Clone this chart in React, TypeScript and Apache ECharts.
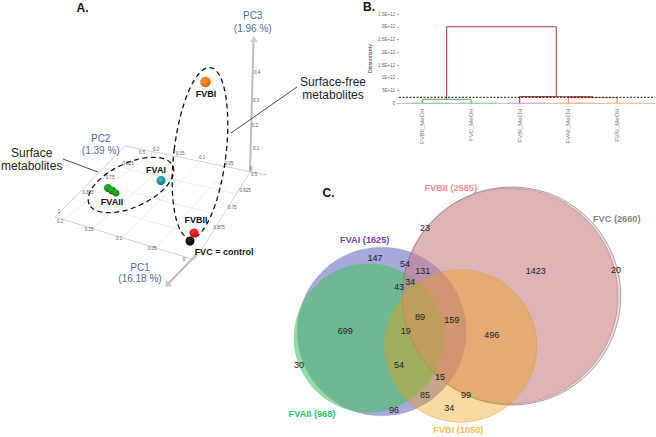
import React, { useEffect, useRef } from "react";
import * as echarts from "echarts";

const FONT = '"Liberation Sans", Arial, sans-serif';
const W = 656;
const H = 437;

// ---------- Panel B: dendrogram ----------
const leafNames = ["FVBII_MeOH", "FVC_MeOH", "FVBI_MeOH", "FVAII_MeOH", "FVAI_MeOH"];
const leafSlots = [0, 2, 4, 6, 8];
const leafColors = ["#9CCFA6", "#A5D3AE", "#DDB0DA", "#F4B98C", "#F6C9A6"];
const yTickLabels: Record<string, string> = {
  "0": "0", "500000000000": "5E+11", "1000000000000": "1E+12", "1500000000000": "1.5E+12",
  "2000000000000": "2E+12", "2500000000000": "2.5E+12", "3000000000000": "3E+12", "3500000000000": "3.5E+12",
};
const linkGreen = [[0, 0], [0, 1.55e11], [2, 1.55e11], [2, 0]];
const linkOrange = [[6, 0], [6, 2.2e11], [8, 2.2e11], [8, 0]];
const linkPurple = [[4, 0], [4, 2.6e11], [5.5, 2.6e11]];
const linkRedLower = [[4, 2.6e11], [7, 2.6e11], [7, 2.2e11]];
const linkRedTop = [[1, 1.55e11], [1, 3e12], [5.5, 3e12], [5.5, 2.6e11]];
const truncation = 2.35e11;

// ---------- Panel C: Venn (listed in drawing order) ----------
const vennNames = ["FVC", "FVAI", "FVAII", "FVBII", "FVBI"];
const vennCx = [511.7, 381.7, 368.3, 510, 460.5];
const vennCy = [296, 331.5, 338, 296, 346];
const vennR = [109, 84.3, 74.3, 108, 76.2];
const vennFill = [
  "rgba(222,222,218,0.8)", "rgba(110,110,193,0.6)", "rgba(73,195,103,0.6)",
  "rgba(216,130,139,0.5)", "rgba(237,160,17,0.4)",
];
const vennStroke = [
  "rgba(130,130,130,0.9)", "rgba(110,110,193,0.3)", "rgba(73,195,103,0.3)",
  "rgba(170,100,105,0.6)", "rgba(200,150,70,0.5)",
];
const vennCounts: [string, number, number][] = [
  ["147", 375, 257.7], ["54", 405, 264.3], ["131", 422.7, 271], ["34", 410.3, 282],
  ["43", 399, 286.7], ["23", 425, 227.7], ["1423", 535.7, 270.7], ["20", 616, 269.7],
  ["699", 345.3, 330.7], ["19", 405.7, 331.3], ["89", 420, 317], ["159", 451.7, 320],
  ["496", 491.7, 335.3], ["54", 399, 364.7], ["30", 299, 364.7], ["15", 440, 376.7],
  ["85", 425, 394.7], ["99", 466, 395], ["34", 449.3, 408.3], ["96", 394, 410.3],
];
const vennTitles: [string, number, number, string][] = [
  ["FVBII (2585)", 450.7, 188.3, "#F08E94"], ["FVC (2660)", 616.7, 218.7, "#858585"],
  ["FVAI (1625)", 364.7, 239.7, "#7A3FB0"], ["FVAII (968)", 312, 414.3, "#2FBF6E"],
  ["FVBI (1050)", 458.3, 430.3, "#F3BE52"],
];

// ---------- Panel A: PCA ----------
const floorEdges = [
  [125, 146, 267, 175], [125, 146, 55, 217], [55, 217, 195, 260], [250, 172, 195, 260],
];
const floorGrid = [
  [63, 220, 153, 152], [92, 229, 176, 156], [122, 238, 202, 160], [155, 249, 229, 166],
  [107.5, 164, 236, 194], [90, 181.5, 222.5, 216], [72.5, 199, 208.7, 238],
];
const thickAxes = [[250, 172, 253.5, 40], [197, 254, 167, 285]];
const calloutLines = [[63, 159, 98, 172], [297, 87, 231, 133]];
const pcaTicks: [string, number, number][] = [
  ["0.4", 257, 72], ["0.3", 256, 100], ["0.2", 255, 125], ["0.1", 256, 148], ["0", 251, 168],
  ["0.5", 254, 174], ["0.625", 245, 190], ["0.75", 232, 207], ["0.875", 219, 227],
  ["0.2", 156, 149], ["0.15", 180, 153], ["0.1", 202, 157], ["0.05", 229, 163],
  ["0.5", 142, 152], ["0.625", 128, 163], ["0.75", 110, 177], ["0.875", 88, 192], ["1", 59, 211],
  ["0.2", 60, 221], ["0.15", 89, 229], ["0.1", 119, 238], ["0.05", 152, 248], ["0", 184, 259],
];
const groupNames = ["FVBI", "FVAI", "FVAII", "FVBII", "FVC"];
const groupX = [205.5, 161, 108, 194, 190];
const groupY = [82, 180.5, 188, 233, 241];
const extraGreenX = [112, 116];
const extraGreenY = [190.5, 193];
const groupLabels: [string, number, number][] = [
  ["FVBI", 206, 94], ["FVAI", 156, 170], ["FVAII", 112, 202], ["FVBII", 196, 220], ["FVC = control", 224, 252],
];
const axisTitles: [string, number, number][] = [
  ["PC3", 252.7, 15], ["(1.96 %)", 252.7, 28], ["PC2", 100.7, 138], ["(1.39 %)", 100.7, 150],
  ["PC1", 140, 267.7], ["(16.18 %)", 140, 278.5],
];
const calloutTexts: [string, number, number][] = [
  ["Surface", 31.7, 152.7], ["metabolites", 31.7, 166], ["Surface-free", 333, 82], ["metabolites", 333, 95],
];
const ellipses = [
  [200, 153, 26, 86, -0.12],
  [131, 185, 46, 22, 0.43],
];
const panelLetters: [string, number, number][] = [["A.", 82.5, 8], ["B.", 369, 7], ["C.", 328.5, 193]];

function sphere(light: string, mid: string, dark: string) {
  return new echarts.graphic.RadialGradient(0.4, 0.35, 0.7, [
    { offset: 0, color: light }, { offset: 0.5, color: mid }, { offset: 1, color: dark },
  ]);
}
const groupColors = [
  sphere("#F59A3A", "#EC7E12", "#C4620C"),
  sphere("#3FC0C4", "#149CA2", "#0D767C"),
  sphere("#35B835", "#159A15", "#0E760E"),
  sphere("#FF3838", "#EE1414", "#C01010"),
  sphere("#333333", "#0C0C0C", "#000000"),
];

function segments(name: string, data: number[][], color: string, width: number, z = 2) {
  return {
    type: "custom", name, xAxisIndex: 0, yAxisIndex: 0, silent: true, z, clip: false,
    encode: { x: [0, 2], y: [1, 3] }, data,
    renderItem: (_: any, api: any) => {
      const a = api.coord([api.value(0), api.value(1)]);
      const b = api.coord([api.value(2), api.value(3)]);
      return {
        type: "line",
        shape: { x1: a[0], y1: a[1], x2: b[0], y2: b[1] },
        style: { stroke: color, lineWidth: width, fill: "none" },
      };
    },
  };
}

function link(name: string, data: number[][], color: string, z = 4) {
  return {
    type: "line", name, xAxisIndex: 1, yAxisIndex: 1, data, showSymbol: false, symbol: "none",
    silent: true, z, lineStyle: { color, width: 1 },
  };
}

function texts(items: [string, number, number][], font: string, fill: string) {
  return items.map(([text, x, y]) => ({
    type: "text", x, y, silent: true, z: 20,
    style: { text, font, fill, textAlign: "center", textVerticalAlign: "middle" },
  }));
}

export default function App() {
  const ref = useRef<HTMLDivElement>(null);
  useEffect(() => {
    const chart = echarts.init(ref.current!, undefined, { renderer: "svg" });
    const option: any = {
      animation: false,
      backgroundColor: "#fff",
      textStyle: { fontFamily: FONT },
      grid: [
        { left: 0, top: 0, width: W, height: H },
        { left: 399, top: 14, width: 256, height: 89.3 },
      ],
      xAxis: [
        { type: "value", min: 0, max: W, show: false, gridIndex: 0 },
        {
          type: "value", gridIndex: 1, min: -0.957, max: 9.556,
          splitLine: { show: false }, axisTick: { show: false },
          axisLine: { show: true, onZero: false, lineStyle: { color: "#C4C4C4", width: 1 } },
          axisLabel: {
            customValues: leafSlots, rotate: 90, fontSize: 6, color: "#777", margin: 5, fontFamily: FONT,
            formatter: (v: number) => leafNames[leafSlots.indexOf(v)] ?? "",
          },
        },
      ],
      yAxis: [
        { type: "value", min: 0, max: H, inverse: true, show: false, gridIndex: 0 },
        {
          type: "value", gridIndex: 1, min: 0, max: 3.5e12, interval: 5e11,
          name: "Dissimilarity", nameLocation: "middle", nameGap: 26,
          nameTextStyle: { fontSize: 5.5, color: "#333", fontFamily: FONT },
          splitLine: { show: false },
          axisLine: { show: false, onZero: false },
          axisTick: { show: true, length: 2, lineStyle: { color: "#AAA" } },
          axisLabel: {
            fontSize: 4.5, color: "#666", margin: 4, fontFamily: FONT,
            formatter: (v: number) => yTickLabels[String(v)] ?? "",
          },
        },
      ],
      series: [
        segments("floor-grid", floorGrid, "#ECECEC", 1, 1),
        segments("floor-edge", floorEdges, "#D2D2D2", 1, 2),
        segments("thick-axes", thickAxes, "#BDBDBD", 2, 3),
        segments("callouts", calloutLines, "#333", 0.9, 3),
        {
          type: "custom", name: "groupings", xAxisIndex: 0, yAxisIndex: 0, silent: true, z: 5, clip: false,
          encode: { x: 0, y: 1 }, data: ellipses,
          renderItem: (_: any, api: any) => {
            const c = api.coord([api.value(0), api.value(1)]);
            return {
              type: "ellipse",
              shape: { cx: 0, cy: 0, rx: api.value(2), ry: api.value(3) },
              x: c[0], y: c[1], rotation: api.value(4),
              style: { fill: "none", stroke: "#111", lineWidth: 1.3, lineDash: [5, 3.5] },
            };
          },
        },
        {
          type: "scatter", name: "PCA groups", xAxisIndex: 0, yAxisIndex: 0, silent: true, z: 6,
          symbolSize: 9, itemStyle: { opacity: 1 },
          data: [
            ...groupNames.map((name, i) => ({
              name, value: [groupX[i], groupY[i]], symbolSize: name === "FVBI" ? 10.5 : name === "FVAII" ? 8 : 9,
              itemStyle: { color: groupColors[i], opacity: 1 },
            })),
            ...extraGreenX.map((x, i) => ({
              name: "FVAII", value: [x, extraGreenY[i]], symbolSize: i === 0 ? 8 : 7,
              itemStyle: { color: groupColors[2], opacity: 1 },
            })),
          ],
        },
        ...leafSlots.map((s, i) =>
          ({
            type: "line", name: leafNames[i], xAxisIndex: 1, yAxisIndex: 1, symbol: "none", silent: true, z: 3,
            data: [[s - 0.45, 0], [s + 1.07, 0]], lineStyle: { color: leafColors[i], width: 1.6 },
          })
        ),
        link("green", linkGreen, "#5FA36C"),
        link("orange", linkOrange, "#E88A4C"),
        link("purple", linkPurple, "#8E3E5E"),
        link("redLower", linkRedLower, "#A83A3A"),
        link("redTop", linkRedTop, "#A83A3A"),
        {
          type: "line", name: "truncation", xAxisIndex: 1, yAxisIndex: 1, symbol: "none", silent: true, z: 5,
          data: [[-0.957, truncation], [9.556, truncation]],
          lineStyle: { color: "#111", width: 1, type: [2, 1.5] },
        },
        {
          type: "scatter", name: "Venn", xAxisIndex: 0, yAxisIndex: 0, silent: true, z: 7,
          data: vennNames.map((name, i) => ({
            name, value: [vennCx[i], vennCy[i]], symbolSize: vennR[i] * 2,
            itemStyle: { color: vennFill[i], borderColor: vennStroke[i], borderWidth: 0.8, opacity: 1 },
          })),
        },
      ],
      graphic: {
        elements: [
          {
            type: "polygon", silent: true, z: 4,
            shape: { points: [[253.8, 36], [249.8, 42], [257.8, 42]] }, style: { fill: "#D0D0D0" },
          },
          {
            type: "polygon", silent: true, z: 4,
            shape: { points: [[165, 287], [166, 280], [172, 286]] }, style: { fill: "#C8C8C8" },
          },
          ...texts(pcaTicks, `4.5px ${FONT}`, "#555"),
          ...texts(axisTitles, `10px ${FONT}`, "#4A6E9E"),
          ...texts(calloutTexts, `12px ${FONT}`, "#222"),
          ...texts(groupLabels, `bold 9px ${FONT}`, "#111"),
          ...texts(panelLetters, `bold 12px ${FONT}`, "#111"),
          ...texts(vennCounts, `9px ${FONT}`, "#222"),
          ...vennTitles.map(([text, x, y, fill]) => ({
            type: "text", x, y, silent: true, z: 20,
            style: { text, font: `bold 9.2px ${FONT}`, fill, textAlign: "center", textVerticalAlign: "middle" },
          })),
        ],
      },
    };
    chart.setOption(option);
    return () => chart.dispose();
  }, []);
  return (
    <div
      ref={ref}
      style={{ position: "fixed", left: 0, top: 0, width: W, height: H, background: "#fff" }}
    />
  );
}
